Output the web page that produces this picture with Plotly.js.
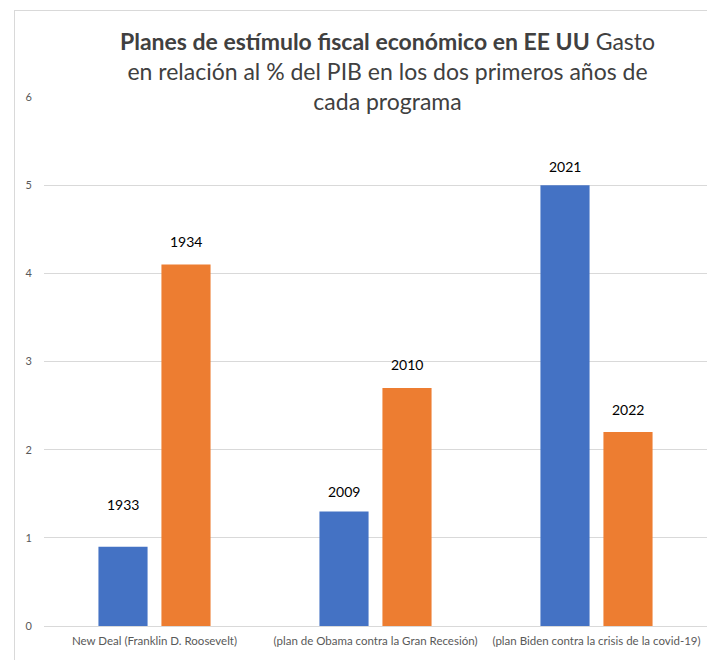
<!DOCTYPE html>
<html><head><meta charset="utf-8">
<script src="https://cdn.plot.ly/plotly-3.0.1.min.js"></script>
<style>body{margin:0;background:#fff}#frame{position:absolute;left:14px;top:10px;width:720px;height:680px;border:1px solid #d9d9d9;pointer-events:none}</style>
</head><body>
<div id="chart" style="width:707px;height:660px;"></div>
<div id="frame"></div>
<script>
const categories = ["New Deal (Franklin D. Roosevelt)", "(plan de Obama contra la Gran Recesión)", "(plan Biden contra la crisis de la covid-19)"];
const firstYearValues = [0.9, 1.3, 5.0];
const secondYearValues = [4.1, 2.7, 2.2];
const firstYearLabels = ["1933", "2009", "2021"];
const secondYearLabels = ["1934", "2010", "2022"];
const yTicks = [0, 1, 2, 3, 4, 5, 6];
const titleText = "<b>Planes de estímulo fiscal económico en EE UU</b> Gasto<br>en relación al % del PIB en los dos primeros años de<br>cada programa";

const blue = "#4472c4", orange = "#ed7d31";
const traces = [
  {type: "bar", x: categories, y: firstYearValues, marker: {color: blue}, name: "Primer año", hoverinfo: "y"},
  {type: "bar", x: categories, y: secondYearValues, marker: {color: orange}, name: "Segundo año", hoverinfo: "y"}
];

const labelFont = {family: "Lato, sans-serif", size: 14, color: "#000"};
const annotations = [];
const firstShift = [42, 20, 19];
categories.forEach((c, i) => {
  annotations.push({x: c, y: firstYearValues[i], xref: "x", yref: "y", text: firstYearLabels[i], showarrow: false,
    xshift: -31.5, yshift: firstShift[i], font: labelFont});
  annotations.push({x: c, y: secondYearValues[i], xref: "x", yref: "y", text: secondYearLabels[i], showarrow: false,
    xshift: 31.5, yshift: 23, font: labelFont});
});
annotations.push({xref: "paper", yref: "paper", x: 0.518, y: 1.05, xanchor: "center", yanchor: "middle",
  text: titleText, showarrow: false, align: "center",
  font: {family: "Lato, sans-serif", size: 23, color: "#404040"}});

const layout = {
  width: 707, height: 660,
  margin: {l: 44, r: 0, t: 97, b: 34},
  paper_bgcolor: "#fff", plot_bgcolor: "#fff",
  showlegend: false,
  barmode: "group", bargap: 0.43, bargroupgap: 0.22,
  font: {family: "Lato, sans-serif", color: "#595959"},
  xaxis: {tickfont: {size: 11.5, color: "#595959"}, showline: false, ticks: "", showgrid: false, ticklabelstandoff: 6},
  yaxis: {range: [0, 6], tickvals: yTicks, ticktext: yTicks.map(String), showgrid: true, gridcolor: "#d9d9d9",
    zeroline: true, zerolinecolor: "#d9d9d9", showline: false, ticks: "", tickfont: {size: 11, color: "#595959"}, ticklabelstandoff: 11},
  annotations: annotations
};
Plotly.newPlot("chart", traces, layout, {displayModeBar: false, staticPlot: true});
</script>
</body></html>
